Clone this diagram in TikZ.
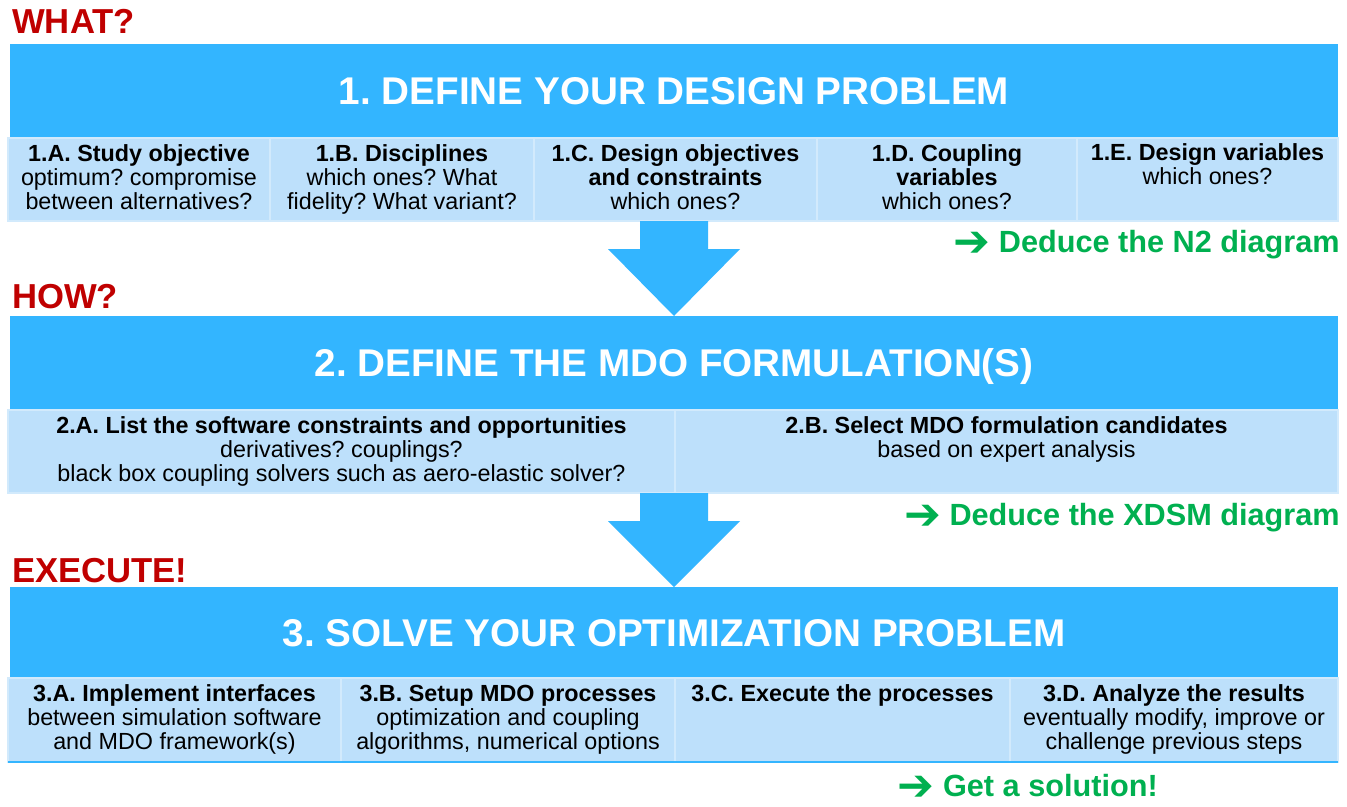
\documentclass[tikz,border=0pt]{standalone}
\usepackage{fontspec}
\setmainfont{Liberation Sans}
\newfontfamily\arrowfont{DejaVu Sans}
\usetikzlibrary{positioning,calc}
\frenchspacing
\definecolor{bandblue}{RGB}{51,181,255}
\definecolor{cellblue}{RGB}{189,224,251}
\definecolor{cellline}{RGB}{210,234,252}
\definecolor{askred}{RGB}{192,0,0}
\definecolor{resgreen}{RGB}{0,176,80}
\tikzset{
bandbox/.style = {rectangle, fill=bandblue, text=white, font=\fontsize{29pt}{34pt}\selectfont\bfseries,
  minimum width=996pt, minimum height=#1, inner sep=0pt, outer sep=0pt, text height=21pt, text depth=0pt},
bandbox/.default = 69.75pt % height of the blue band
}
\tikzset{
cellbox/.style = {rectangle, fill=cellblue, draw=cellline, line width=1pt, anchor=north west,
  minimum width=#1, minimum height=62.25pt, inner sep=0pt, outer sep=0pt},
celltext/.style = {align=center, inner sep=0pt, font=\fontsize{17.5pt}{18pt}\selectfont}
}
\tikzset{asktext/.style={text=askred, font=\fontsize{26pt}{30pt}\selectfont\bfseries, inner sep=0pt, anchor=base west}}
\tikzset{notetext/.style={text=resgreen, font=\fontsize{23pt}{28pt}\selectfont\bfseries, inner sep=0pt, anchor=base east}}
\newcommand{\goarrow}{\smash{\raisebox{-3pt}{\arrowfont\fontsize{33pt}{33pt}\selectfont ➔}}}

\begin{document}
\begin{tikzpicture}[x=0.75pt,y=-0.75pt]
    \useasboundingbox[fill=white] (0,0) rectangle (1347,807);
    % questions
    \node [asktext] (what) at (12,33) {WHAT?};
    \node [asktext] (how) at (12,308) {HOW?};
    \node [asktext] (execute) at (12,582) {EXECUTE!};
    % blue bands
    \node [bandbox] (band1) at (674,90.5) {1. DEFINE YOUR DESIGN PROBLEM};
    \node [bandbox] (band2) at (674,362.5) {2. DEFINE THE MDO FORMULATION(S)};
    \node [bandbox=67.5pt] (band3) at (674,632) {3. SOLVE YOUR OPTIMIZATION PROBLEM};
    % row 1
    \node [cellbox=196.5pt] (c1a) at (8,138) {};
    \node [cellbox=198pt, right=0pt of c1a] (c1b) {};
    \node [cellbox=212.25pt, right=0pt of c1b] (c1c) {};
    \node [cellbox=195pt, right=0pt of c1c] (c1d) {};
    \node [cellbox=195.75pt, right=0pt of c1d] (c1e) {};
    \node [celltext, below=5pt of c1a.north] (t1a) {\textbf{1.A. Study objective}\\optimum? compromise\\between alternatives?};
    \node [celltext, below=5pt of c1b.north] (t1b) {\textbf{1.B. Disciplines}\\which ones? What\\fidelity? What variant?};
    \node [celltext, below=5pt of c1c.north] (t1c) {\textbf{1.C. Design objectives}\\\textbf{and constraints}\\which ones?};
    \node [celltext, below=5pt of c1d.north] (t1d) {\textbf{1.D. Coupling}\\\textbf{variables}\\which ones?};
    \node [celltext, below=4pt of c1e.north] (t1e) {\textbf{1.E. Design variables}\\which ones?};
    % row 2
    \node [cellbox=500.25pt] (c2a) at (8,410) {};
    \node [cellbox=497.25pt, right=0pt of c2a] (c2b) {};
    \node [celltext, below=5pt of c2a.north] (t2a) {\textbf{2.A. List the software constraints and opportunities}\\derivatives? couplings?\\black box coupling solvers such as aero-elastic solver?};
    \node [celltext, below=5pt of c2b.north] (t2b) {\textbf{2.B. Select MDO formulation candidates}\\based on expert analysis};
    % row 3
    \node [cellbox=249.75pt, minimum height=63pt] (c3a) at (8,678) {};
    \node [cellbox=250.5pt, minimum height=63pt, right=0pt of c3a] (c3b) {};
    \node [cellbox=251.25pt, minimum height=63pt, right=0pt of c3b] (c3c) {};
    \node [cellbox=246pt, minimum height=63pt, right=0pt of c3c] (c3d) {};
    \node [celltext, below=5pt of c3a.north] (t3a) {\textbf{3.A. Implement interfaces}\\between simulation software\\and MDO framework(s)};
    \node [celltext, below=5pt of c3b.north] (t3b) {\textbf{3.B. Setup MDO processes}\\optimization and coupling\\algorithms, numerical options};
    \node [celltext, below=5pt of c3c.north] (t3c) {\textbf{3.C. Execute the processes}};
    \node [celltext, below=5pt of c3d.north] (t3d) {\textbf{3.D. Analyze the results}\\eventually modify, improve or\\challenge previous steps};
    \draw [bandblue, line width=2pt] (c3a.south west) -- (c3d.south east);
    % block arrows between the steps
    \foreach \from/\to in {c1c/band2, c2a/band3}
    {
        \path (\from.south -| \to.north) coordinate (top) (\to.north) coordinate (tip);
        \fill [bandblue] ($(top)+(-34,0)$) -- ($(top)+(34,0)$) -- ($(top)+(34,28)$) -- ($(top)+(66,28)$)
            -- (tip) -- ($(top)+(-66,28)$) -- ($(top)+(-34,28)$) -- cycle;
    }
    % results
    \node [notetext] (n2) at (1340,252) {\goarrow\ Deduce the N2 diagram};
    \node [notetext] (xdsm) at (1340,525) {\goarrow\ Deduce the XDSM diagram};
    \node [notetext] (solution) at (1158,796) {\goarrow\ Get a solution!};
\end{tikzpicture}
\end{document}
